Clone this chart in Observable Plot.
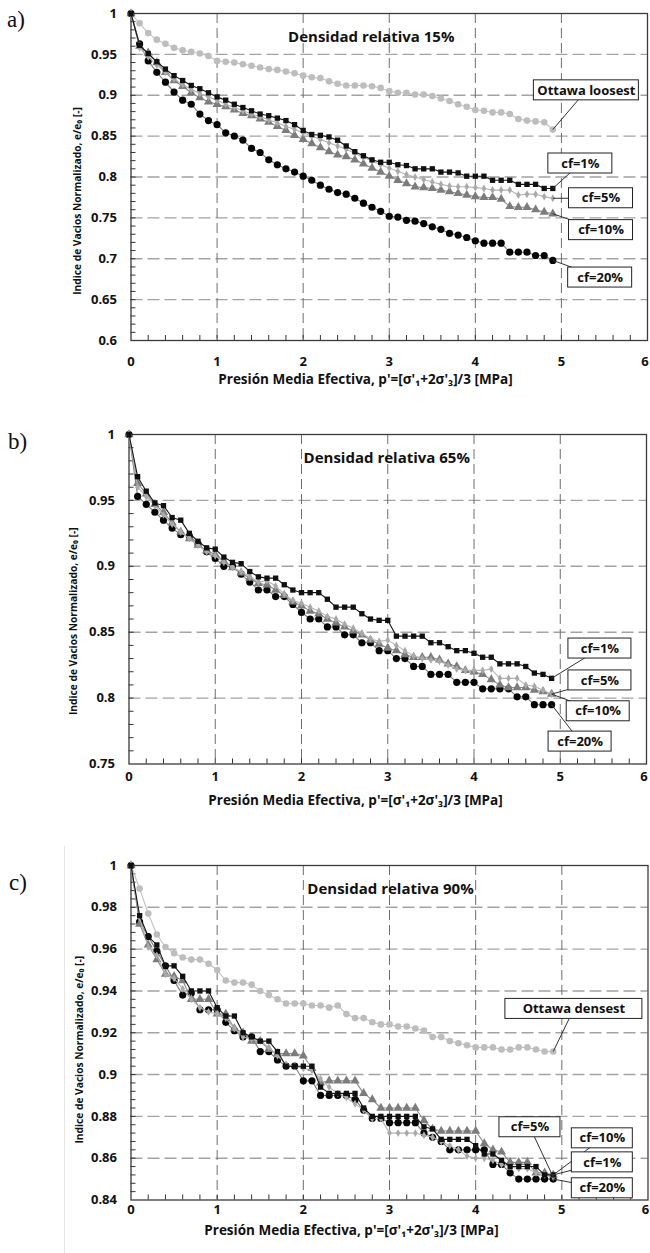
<!DOCTYPE html>
<html><head><meta charset="utf-8">
<script src="https://cdn.jsdelivr.net/npm/d3@7"></script>
<script src="https://cdn.jsdelivr.net/npm/@observablehq/plot@0.6"></script>
<style>
body{margin:0;background:#fff;}
#root{position:relative;width:650px;height:1253px;overflow:hidden;background:#fff;}
.panel{position:absolute;left:0;}
.plabel{position:absolute;font-family:'Liberation Serif','DejaVu Serif',serif;font-size:23px;color:#111;line-height:1;}
</style></head><body><div id="root"></div>
<script>
// ---------- DATA ----------
const pressure = [0,0.1,0.2,0.3,0.4,0.5,0.6,0.7,0.8,0.9,1.0,1.1,1.2,1.3,1.4,1.5,1.6,1.7,1.8,1.9,2.0,2.1,2.2,2.3,2.4,2.5,2.6,2.7,2.8,2.9,3.0,3.1,3.2,3.3,3.4,3.5,3.6,3.7,3.8,3.9,4.0,4.1,4.2,4.3,4.4,4.5,4.6,4.7,4.8,4.9];

// Panel a) Densidad relativa 15%
const a_ottawa = [1.000,0.988,0.976,0.968,0.963,0.958,0.955,0.953,0.951,0.948, 0.942,0.941,0.940,0.938,0.936,0.934,0.932,0.931,0.929,0.927, 0.924,0.922,0.921,0.917,0.914,0.912,0.912,0.912,0.911,0.909, 0.905,0.903,0.903,0.901,0.901,0.899,0.896,0.893,0.889,0.886, 0.882,0.881,0.879,0.879,0.877,0.871,0.869,0.868,0.867,0.858];
const a_cf1 = [1.000,0.961,0.951,0.941,0.932,0.924,0.918,0.912,0.908,0.903, 0.898,0.894,0.889,0.885,0.881,0.877,0.875,0.872,0.869,0.864, 0.857,0.852,0.851,0.849,0.845,0.838,0.831,0.826,0.821,0.818, 0.818,0.815,0.814,0.810,0.810,0.810,0.806,0.806,0.805,0.801, 0.801,0.801,0.796,0.796,0.796,0.791,0.791,0.791,0.786,0.786];
const a_cf5 = [1.000,0.958,0.947,0.937,0.928,0.920,0.913,0.907,0.902,0.898, 0.894,0.889,0.885,0.881,0.877,0.874,0.870,0.866,0.862,0.858, 0.854,0.850,0.846,0.842,0.838,0.834,0.829,0.824,0.820,0.815, 0.811,0.807,0.803,0.800,0.797,0.794,0.791,0.789,0.788,0.788, 0.787,0.786,0.784,0.784,0.784,0.778,0.779,0.779,0.776,0.774];
const a_cf10 = [1.000,0.960,0.952,0.940,0.928,0.918,0.911,0.903,0.897,0.892, 0.889,0.886,0.882,0.878,0.875,0.871,0.867,0.862,0.857,0.851, 0.846,0.841,0.836,0.831,0.827,0.825,0.821,0.816,0.811,0.806, 0.801,0.796,0.792,0.788,0.787,0.786,0.784,0.782,0.780,0.778, 0.776,0.775,0.775,0.773,0.764,0.763,0.763,0.760,0.757,0.755];
const a_cf20 = [1.000,0.963,0.942,0.928,0.916,0.904,0.894,0.889,0.877,0.869, 0.864,0.854,0.850,0.845,0.835,0.830,0.821,0.815,0.810,0.806, 0.801,0.796,0.790,0.785,0.781,0.779,0.774,0.768,0.763,0.758, 0.752,0.751,0.747,0.746,0.743,0.739,0.736,0.731,0.729,0.726, 0.722,0.719,0.719,0.719,0.708,0.708,0.708,0.704,0.704,0.698];

// Panel b) Densidad relativa 65%
const b_cf1 = [1.000,0.968,0.957,0.948,0.946,0.937,0.935,0.925,0.919,0.914, 0.913,0.907,0.903,0.902,0.896,0.892,0.891,0.891,0.886,0.882, 0.880,0.880,0.880,0.875,0.869,0.869,0.869,0.864,0.860,0.859, 0.859,0.847,0.847,0.847,0.847,0.842,0.842,0.839,0.836,0.836, 0.834,0.831,0.831,0.826,0.826,0.826,0.824,0.819,0.818,0.815];
const b_cf5 = [1.000,0.960,0.953,0.946,0.939,0.932,0.926,0.921,0.916,0.911, 0.908,0.903,0.899,0.896,0.892,0.888,0.889,0.885,0.879,0.874, 0.872,0.869,0.866,0.862,0.860,0.856,0.853,0.849,0.845,0.843, 0.844,0.840,0.836,0.832,0.830,0.829,0.828,0.825,0.822,0.821, 0.821,0.821,0.822,0.815,0.815,0.815,0.810,0.809,0.806,0.803];
const b_cf10 = [1.000,0.963,0.955,0.947,0.941,0.933,0.926,0.921,0.916,0.912, 0.909,0.904,0.899,0.895,0.891,0.887,0.886,0.882,0.878,0.873, 0.870,0.866,0.864,0.860,0.857,0.854,0.851,0.848,0.844,0.841, 0.838,0.836,0.833,0.831,0.831,0.831,0.829,0.826,0.824,0.821, 0.820,0.818,0.814,0.810,0.808,0.808,0.808,0.806,0.805,0.803];
const b_cf20 = [1.000,0.953,0.947,0.941,0.935,0.929,0.924,0.923,0.917,0.911, 0.906,0.900,0.900,0.894,0.888,0.882,0.882,0.877,0.877,0.871, 0.865,0.860,0.860,0.854,0.854,0.848,0.848,0.842,0.842,0.836, 0.836,0.830,0.830,0.824,0.824,0.818,0.818,0.818,0.812,0.812, 0.812,0.807,0.807,0.807,0.807,0.801,0.801,0.795,0.795,0.795];

// Panel c) Densidad relativa 90%
const c_ottawa = [1.000,0.989,0.977,0.967,0.961,0.958,0.956,0.955,0.955,0.953, 0.950,0.945,0.944,0.944,0.943,0.940,0.938,0.936,0.934,0.934, 0.934,0.933,0.933,0.932,0.933,0.929,0.927,0.927,0.925,0.924, 0.924,0.923,0.923,0.922,0.921,0.918,0.918,0.916,0.915,0.914, 0.913,0.913,0.913,0.912,0.912,0.913,0.913,0.912,0.911,0.911];
const c_cf1 = [1.000,0.976,0.966,0.962,0.952,0.952,0.947,0.940,0.940,0.940, 0.932,0.928,0.928,0.920,0.918,0.916,0.916,0.911,0.904,0.904, 0.904,0.904,0.894,0.891,0.891,0.891,0.891,0.884,0.880,0.880, 0.880,0.880,0.880,0.880,0.875,0.874,0.869,0.869,0.869,0.869, 0.866,0.862,0.862,0.859,0.856,0.856,0.856,0.856,0.852,0.852];
const c_cf5 = [1.000,0.975,0.961,0.957,0.948,0.946,0.941,0.936,0.932,0.930, 0.929,0.927,0.922,0.918,0.917,0.916,0.913,0.909,0.905,0.904, 0.903,0.902,0.898,0.894,0.891,0.889,0.886,0.883,0.879,0.879, 0.872,0.872,0.872,0.872,0.871,0.870,0.868,0.866,0.864,0.861, 0.860,0.860,0.859,0.857,0.856,0.855,0.855,0.853,0.852,0.851];
const c_cf10 = [1.000,0.972,0.962,0.955,0.948,0.947,0.945,0.936,0.936,0.936, 0.929,0.929,0.922,0.920,0.916,0.916,0.912,0.910,0.910,0.910, 0.909,0.903,0.896,0.897,0.897,0.897,0.897,0.891,0.888,0.884, 0.884,0.884,0.884,0.884,0.878,0.874,0.873,0.873,0.873,0.873, 0.873,0.867,0.864,0.863,0.858,0.858,0.858,0.853,0.853,0.852];
const c_cf20 = [1.000,0.973,0.966,0.959,0.952,0.945,0.938,0.939,0.931,0.931, 0.931,0.925,0.921,0.918,0.918,0.911,0.911,0.907,0.904,0.904, 0.897,0.897,0.890,0.890,0.890,0.890,0.888,0.883,0.879,0.879, 0.877,0.877,0.877,0.877,0.872,0.870,0.868,0.864,0.864,0.864, 0.864,0.864,0.857,0.857,0.853,0.850,0.850,0.850,0.850,0.850];

// Tick labels
const xTicks = [0,1,2,3,4,5,6];
const a_yTicks = [0.6,0.65,0.7,0.75,0.8,0.85,0.9,0.95,1];
const b_yTicks = [0.75,0.8,0.85,0.9,0.95,1];
const c_yTicks = [0.84,0.86,0.88,0.9,0.92,0.94,0.96,0.98,1];

// Texts
const titles = ["Densidad relativa 15%","Densidad relativa 65%","Densidad relativa 90%"];
const panelLetters = ["a)","b)","c)"];
const xTitle = "Presión Media Efectiva, p'=[σ'₁+2σ'₃]/3 [MPa]";
const yTitle = "Indice de Vacios Normalizado, e/e₀ [-]";

// Annotation callouts (label text, series, anchor in data units)
const a_labels = [
  {text:"Ottawa loosest", s:"ottawa", x:5.29, y:0.906},
  {text:"cf=1%", s:"cf1", x:5.22, y:0.8165},
  {text:"cf=5%", s:"cf5", x:5.46, y:0.774},
  {text:"cf=10%", s:"cf10", x:5.46, y:0.735},
  {text:"cf=20%", s:"cf20", x:5.45, y:0.677}
];
const b_labels = [
  {text:"cf=1%", s:"cf1", x:5.46, y:0.8376},
  {text:"cf=5%", s:"cf5", x:5.46, y:0.8134},
  {text:"cf=10%", s:"cf10", x:5.44, y:0.790},
  {text:"cf=20%", s:"cf20", x:5.23, y:0.767}
];
const c_labels = [
  {text:"Ottawa densest", s:"ottawa", x:5.14, y:0.9314},
  {text:"cf=5%", s:"cf5", x:4.63, y:0.8748},
  {text:"cf=10%", s:"cf10", x:5.47, y:0.8695},
  {text:"cf=1%", s:"cf1", x:5.47, y:0.858},
  {text:"cf=20%", s:"cf20", x:5.47, y:0.8456}
];

// ---------- STYLE ----------
const FONT = "'Open Sans', 'DejaVu Sans', sans-serif";
const seriesStyle = {
  ottawa: {line:"#c2c2c2", fill:"#bdbdbd", symbol:"circle", r:3.3},
  cf20:   {line:"#7a7a7a", fill:"#050505", symbol:"circle", r:3.6},
  cf10:   {line:"#8a8a8a", fill:"#7c7c7c", symbol:"triangle", r:3.4},
  cf5:    {line:"#b3b3b3", fill:"#a9a9a9", symbol:"diamond", r:2.4},
  cf1:    {line:"#151515", fill:"#101010", symbol:"square", r:3.0}
};
const boxWidths = {"Ottawa loosest":105, "Ottawa densest":137};

function buildPanel(cfg) {
  const plotW = 650 - cfg.ml - cfg.mr;
  const plotH = cfg.height - cfg.mt - cfg.mb;
  const order = ["ottawa","cf20","cf10","cf5","cf1"].filter(k => cfg.series[k]);
  const rows = [];
  for (const k of order) cfg.series[k].forEach((v, i) => rows.push({p: pressure[i], v, s: k}));
  const lastP = pressure[pressure.length - 1];
  const endOf = k => cfg.series[k][cfg.series[k].length - 1];

  const [y0, y1] = cfg.yDomain;
  const nMinor = Math.round((y1 - y0) / cfg.minorStep);
  const minorY = d3.range(1, nMinor).map(i => +(y0 + i * cfg.minorStep).toFixed(4));
  const minorX = d3.range(1, 30).map(i => +(i * 0.2).toFixed(2));
  const gridY = cfg.yTicks.filter(t => t > y0 && t < y1);

  const marks = [
    Plot.ruleY(gridY, {stroke:"#a3a3a3", strokeWidth:1.4, strokeDasharray:"12,5"}),
    Plot.ruleX([1,2,3,4,5], {stroke:"#6e6e6e", strokeWidth:1, strokeDasharray:"10,5"}),
    Plot.ruleY(minorY, {insetRight: plotW - 5, stroke:"#333", strokeWidth:1}),
    Plot.ruleX(minorX, {insetTop: plotH - 5, stroke:"#333", strokeWidth:1}),
    Plot.frame({stroke:"#3a3a3a", strokeWidth:1.3})
  ];
  for (const k of order) {
    const st = seriesStyle[k];
    const d = rows.filter(r => r.s === k);
    marks.push(Plot.line(d, {x:"p", y:"v", stroke:st.line, strokeWidth:1.1}));
    marks.push(Plot.dot(d, {x:"p", y:"v", symbol:st.symbol, r:st.r, fill:st.fill, stroke:"none"}));
  }
  // callout leaders
  marks.push(Plot.link(cfg.labels, {x1: () => lastP, y1: d => endOf(d.s), x2:"x", y2:"y", stroke:"#333", strokeWidth:1}));
  // callout boxes
  for (const L of cfg.labels) {
    const w = boxWidths[L.text] || cfg.boxW;
    marks.push(Plot.rect([L], {x1:"x", x2:"x", y1:"y", y2:"y", insetLeft:-w/2, insetRight:-w/2, insetTop:-10, insetBottom:-10, fill:"white", stroke:"#222", strokeWidth:1}));
  }
  marks.push(Plot.text(cfg.labels, {x:"x", y:"y", text:"text", fontSize:13, fontWeight:"bold", lineAnchor:"middle", textAnchor:"middle", fill:"#111"}));
  // title
  marks.push(Plot.text([cfg.title], {frameAnchor:"top", dy:24, dx:cfg.titleDx, lineAnchor:"middle", textAnchor:"middle", fontSize:15, fontWeight:"bold", fill:"#111"}));
  // axes
  marks.push(Plot.axisY({ticks: cfg.yTicks, tickSize:0, tickPadding:14, label:null, fontSize:13, fontWeight:"bold", tickFormat: d => String(d)}));
  marks.push(Plot.axisX({ticks: xTicks.slice(0, -1), tickSize:0, tickPadding:cfg.xTickPad, label:null, fontSize:13, fontWeight:"bold", tickFormat: d => String(d)}));
  marks.push(Plot.axisX({ticks: xTicks.slice(-1), tickSize:0, tickPadding:cfg.xTickPad, label:null, fontSize:13, fontWeight:"bold", dx:-2.5, tickFormat: d => String(d)}));
  // axis titles
  marks.push(Plot.text([xTitle], {frameAnchor:"bottom", dy:cfg.xLabelDy, dx:cfg.xLabelX - (cfg.ml + plotW/2), lineAnchor:"middle", textAnchor:"middle", fontSize:13.5, fontWeight:"bold", fill:"#111"}));
  marks.push(Plot.text([yTitle], {frameAnchor:"left", rotate:-90, dx:cfg.yLabelX - cfg.ml, dy:cfg.yLabelDy, lineAnchor:"middle", textAnchor:"middle", fontSize:10.2, fontWeight:"bold", fill:"#111"}));

  const chart = Plot.plot({
    width: 650, height: cfg.height,
    marginTop: cfg.mt, marginBottom: cfg.mb, marginLeft: cfg.ml, marginRight: cfg.mr,
    x: {domain:[0,6]},
    y: {domain: cfg.yDomain},
    style: {fontFamily: FONT, color:"#111", background:"white", overflow:"hidden"},
    marks
  });
  const div = document.createElement("div");
  div.className = "panel";
  div.style.top = cfg.top + "px";
  div.appendChild(chart);
  document.getElementById("root").appendChild(div);
}

buildPanel({top:0, height:400, mt:13, mb:60, ml:130.5, mr:3, yDomain:[0.6,1], yTicks:a_yTicks, minorStep:0.01,
  series:{ottawa:a_ottawa, cf1:a_cf1, cf5:a_cf5, cf10:a_cf10, cf20:a_cf20}, labels:a_labels, boxW:64,
  title:titles[0], titleDx:-18, xTickPad:16, xLabelDy:39, xLabelX:365, yLabelX:77, yLabelDy:24});
buildPanel({top:420, height:400, mt:14, mb:56.5, ml:128.5, mr:4, yDomain:[0.75,1], yTicks:b_yTicks, minorStep:0.01,
  series:{cf1:b_cf1, cf5:b_cf5, cf10:b_cf10, cf20:b_cf20}, labels:b_labels, boxW:63,
  title:titles[1], titleDx:-1, xTickPad:8, xLabelDy:37, xLabelX:355, yLabelX:73, yLabelDy:22});
buildPanel({top:840, height:413, mt:25, mb:53.5, ml:130.5, mr:2.5, yDomain:[0.84,1], yTicks:c_yTicks, minorStep:0.004,
  series:{ottawa:c_ottawa, cf1:c_cf1, cf5:c_cf5, cf10:c_cf10, cf20:c_cf20}, labels:c_labels, boxW:61,
  title:titles[2], titleDx:1, xTickPad:5, xLabelDy:31, xLabelX:351, yLabelX:79, yLabelDy:17});

// panel letters and outer edge line of panel c
const root = document.getElementById("root");
[[7,8],[8,430],[9,871]].forEach(([x,y],i) => {
  const el = document.createElement("div");
  el.className = "plabel"; el.textContent = panelLetters[i];
  el.style.left = x + "px"; el.style.top = y + "px";
  root.appendChild(el);
});
const edge = document.createElement("div");
edge.style.cssText = "position:absolute;left:64px;top:846px;width:1px;height:407px;background:#e6e6e6;";
root.appendChild(edge);
</script></body></html>
